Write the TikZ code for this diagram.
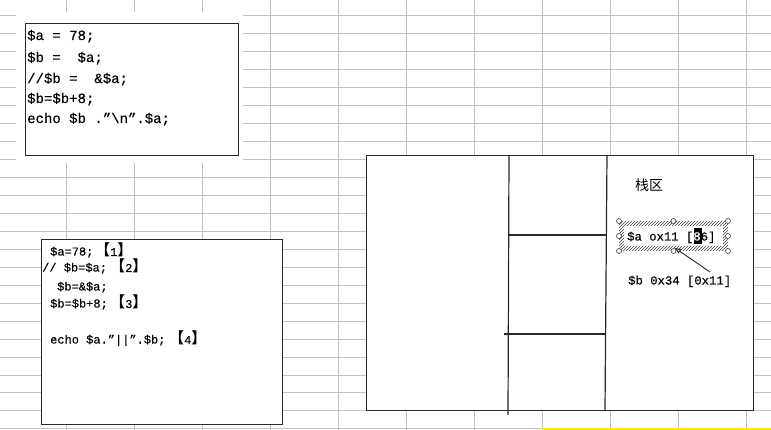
\documentclass[tikz,border=0pt]{standalone}
\usepackage{fontspec}
\newfontfamily\cjk{Noto Sans CJK SC}
\newfontfamily\cjkb{Noto Sans CJK SC Bold}
\newfontfamily\codefont[FakeBold=0.3]{Liberation Mono}
\usetikzlibrary{patterns,arrows.meta}
\definecolor{gridc}{RGB}{195,195,195}
\definecolor{boxc}{RGB}{40,40,40}
\definecolor{hatchc}{RGB}{60,60,60}
\tikzset{
  codebox/.style={draw=boxc, line width=1.3pt, fill=white, inner sep=0pt, anchor=north west},
  codeA/.style={anchor=base west, inner sep=0pt, font=\codefont\fontsize{14}{14}\selectfont},
  codeB/.style={anchor=base west, inner sep=0pt, font=\codefont\fontsize{12}{12}\selectfont},
  codeC/.style={anchor=base west, inner sep=0pt, font=\codefont\fontsize{12.25}{12.25}\selectfont},
  tag/.style={anchor=base west, inner sep=0pt, font=\codefont\fontsize{12}{12}\selectfont},
  divider/.style={draw=boxc, line width=1.2pt},
  handle/.style={draw=hatchc, fill=white, line width=0.6pt},
}
\newcommand{\tg}[1]{{\cjkb\fontsize{15}{15}\selectfont 【}#1{\cjkb\fontsize{15}{15}\selectfont 】}}
\begin{document}
\begin{tikzpicture}[x=1pt,y=-1pt]
\useasboundingbox (0,0) rectangle (771,430);
\fill[white] (0,0) rectangle (771,430);
% spreadsheet grid
\foreach \x in {66,134,...,746} \draw[gridc, line width=1pt] (\x,0) -- (\x,430);
\foreach \k in {0,...,23} {
  \pgfmathsetmacro{\yy}{16+17.95*\k}
  \draw[gridc, line width=1pt] (0,\yy) -- (771,\yy);
}
\draw[yellow!90!orange, line width=1.5pt] (542,429.2) -- (771,429.2);

% box 1
\fill[white] (16,12) rectangle (243,163);
\node[codebox, minimum width=213pt, minimum height=132pt] (box1) at (25,23) {};
\node[codeA] (a1) at (27,40) {\$a = 78;};
\node[codeA] (a2) at (27,62) {\$b =\ \ \$a;};
\node[codeA] (a3) at (27,83) {//\$b =\ \ \&\$a;};
\node[codeA] (a4) at (27,103) {\$b=\$b+8;};
\node[codeA] (a5) at (27,123) {echo \$b .”\textbackslash n”.\$a;};

% box 2
\node[codebox, minimum width=241pt, minimum height=185pt] (box2) at (41,239) {};
\node[codeB] (b1) at (50,255.5) {\$a=78;};
\node[tag] (t1) at (95,256) {\tg{1}};
\node[codeB] (b2) at (42,271.5) {// \$b=\$a;};
\node[tag] (t2) at (110,272) {\tg{2}};
\node[codeB] (b3) at (57,290.5) {\$b=\&\$a;};
\node[codeB] (b4) at (50,307.5) {\$b=\$b+8;};
\node[tag] (t3) at (110,308) {\tg{3}};
\node[codeB] (b5) at (50,343.5) {echo \$a.”||”.\$b;};
\node[tag] (t4) at (169,344) {\tg{4}};

% box 3
\node[codebox, minimum width=387pt, minimum height=255pt] (box3) at (366,155) {};
\coordinate (v1t) at (509,155);
\coordinate (v1b) at (508,415);
\coordinate (v2t) at (607,155);
\coordinate (v2b) at (605,410);
\draw[divider] (v1t) -- (v1b);
\draw[divider] (v2t) -- (v2b);
\coordinate (h1l) at (509,235);
\coordinate (h1r) at (607,235);
\coordinate (h2l) at (504,334);
\coordinate (h2r) at (606,334);
\draw[divider] (h1l) -- (h1r);
\draw[divider] (h2l) -- (h2r);

\node[inner sep=0pt, font=\cjk\fontsize{14}{14}\selectfont] (stack) at (649,185) {栈区};

% selected text box
\fill[pattern=north east lines, pattern color=hatchc, even odd rule]
  (619,221) rectangle (728,251) (624,226) rectangle (723,246);
\node[inner sep=0pt, minimum width=109pt, minimum height=30pt] (tbox) at (673.5,236) {};
\fill[black] (694,228) rectangle (702,244);
\node[codeC] (aval) at (627,240.5) {\$a ox11 [{\color{white}8}6]};
\foreach \p in {(619,221),(673.5,221),(728,221),(619,236),(728,236),(619,251),(673.5,251),(728,251)}
  \draw[handle] \p circle (2.5);
\node[codeC] (bval) at (628,284.5) {\$b 0x34 [0x11]};
\coordinate (lend) at (710,272);
\draw[boxc, line width=0.9pt, {Triangle[open,length=6pt,width=5pt]}-] (675,248) -- (lend);
\end{tikzpicture}
\end{document}
